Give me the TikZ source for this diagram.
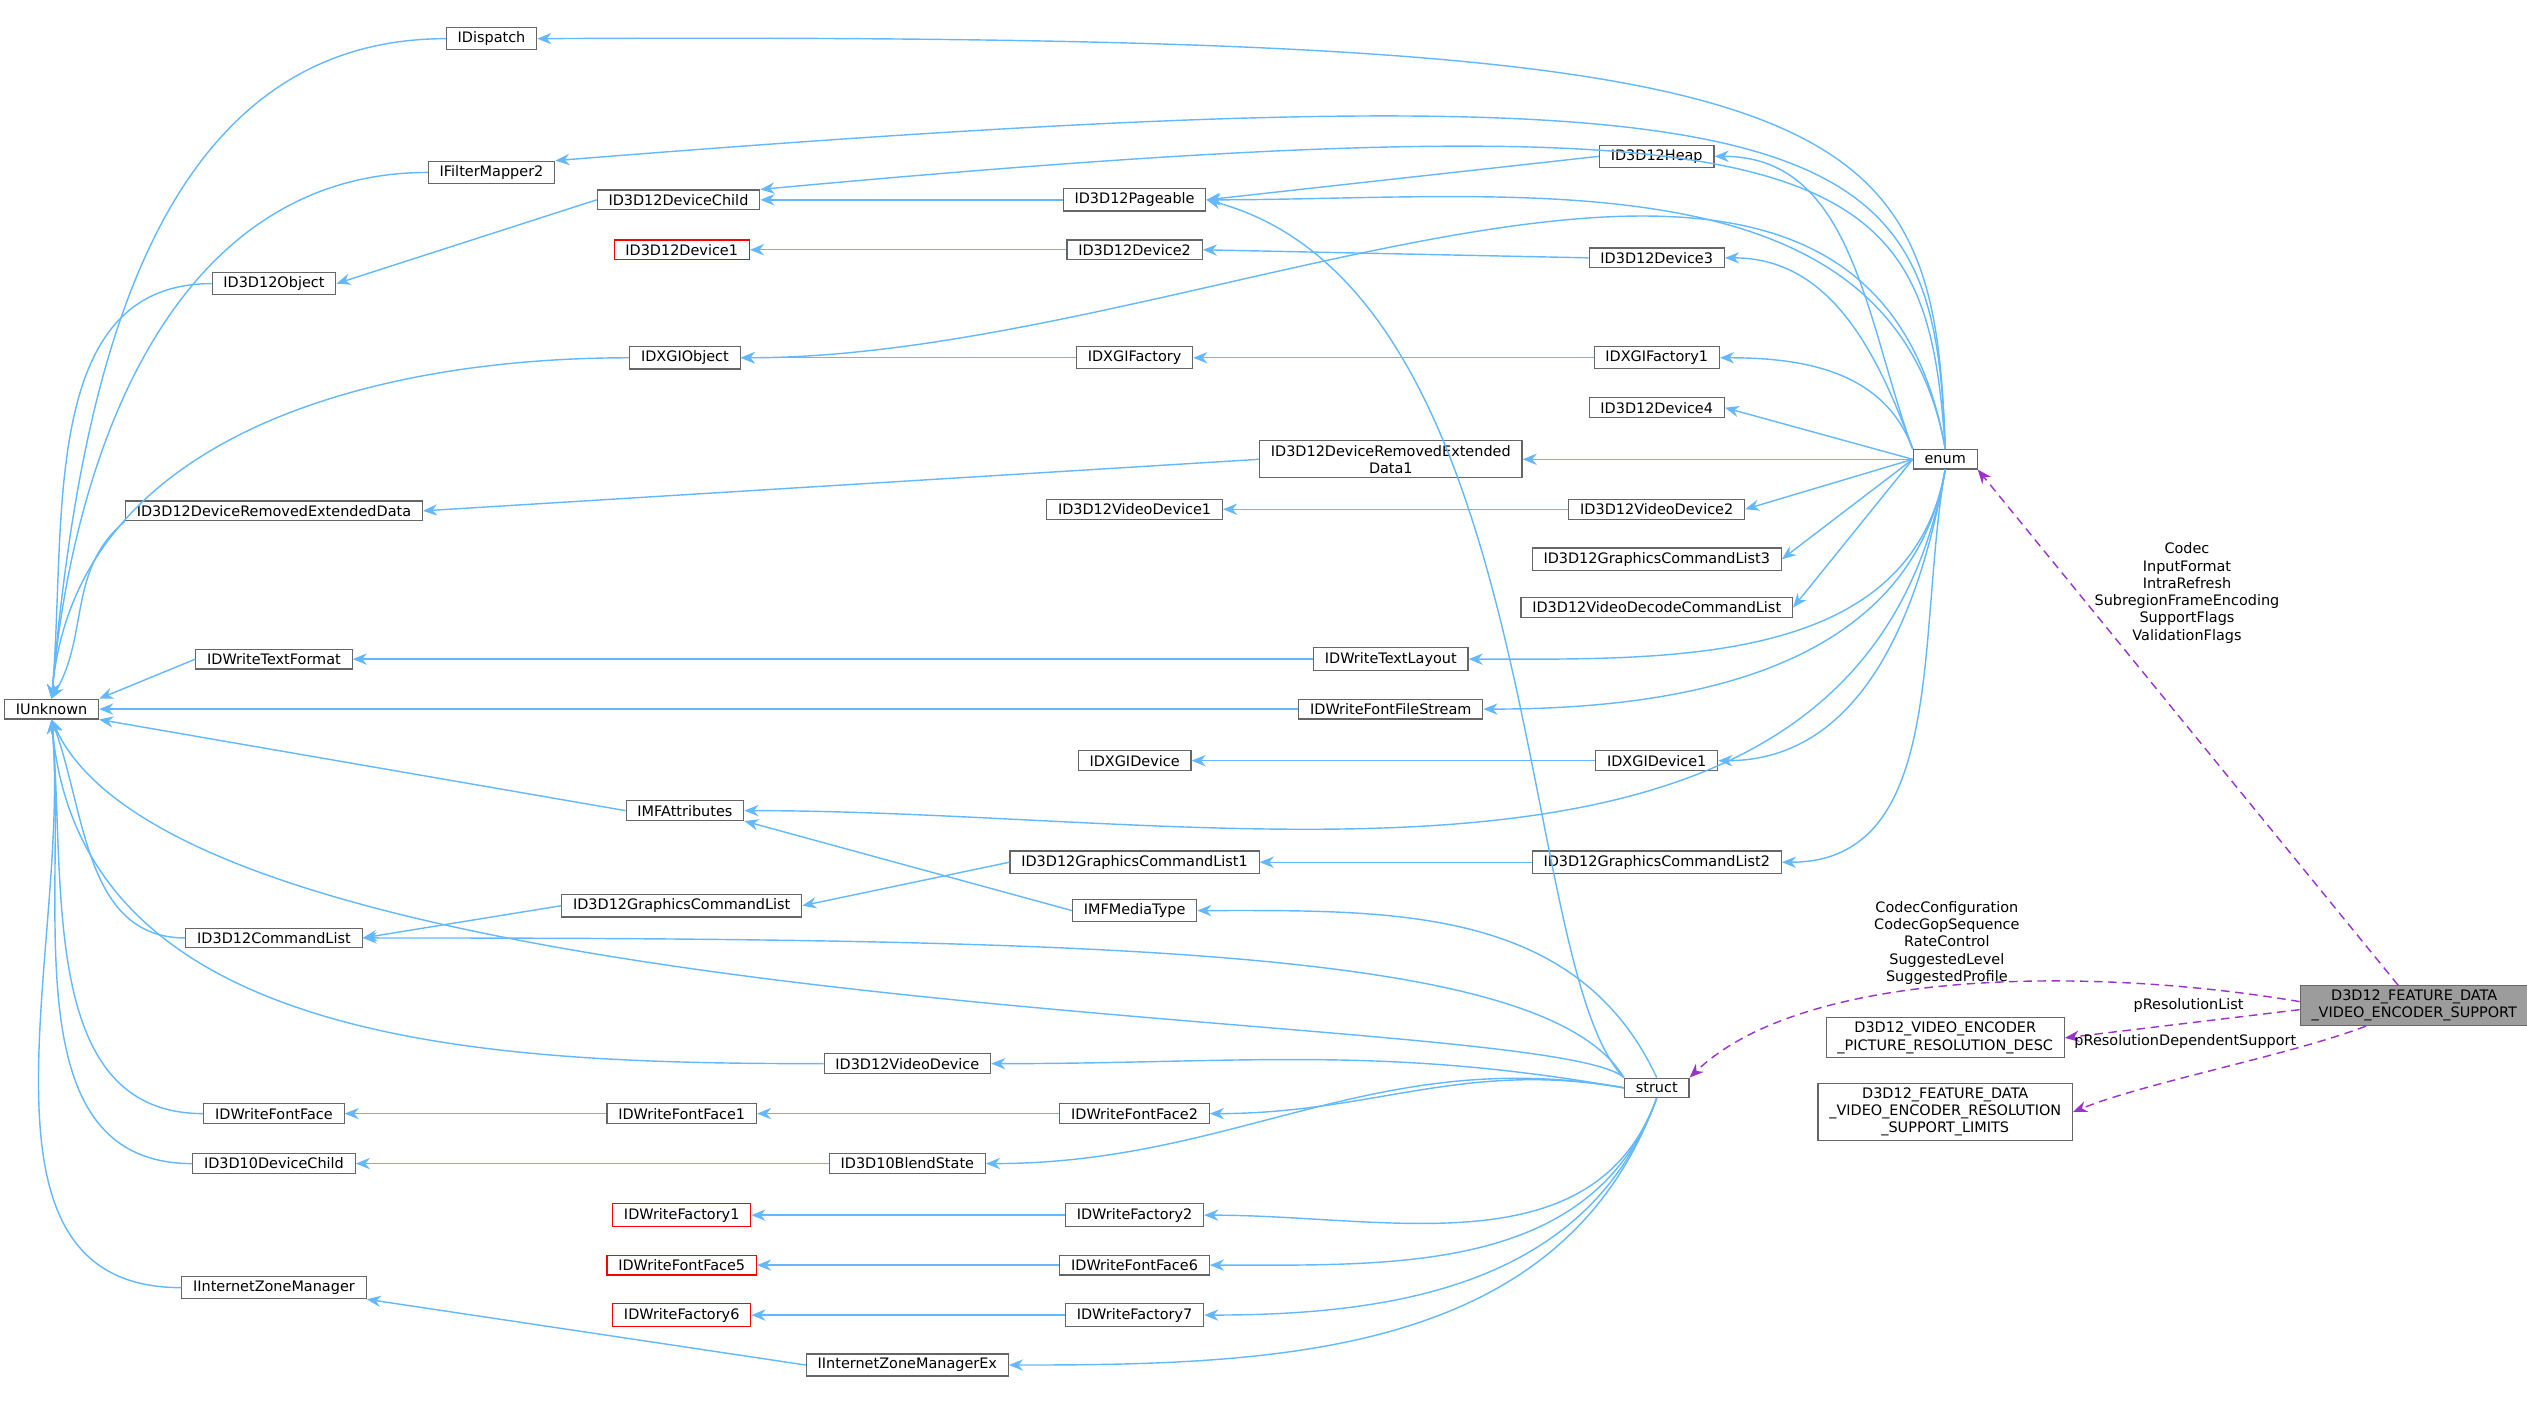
\documentclass[tikz,border=0pt]{standalone}
\usepackage{fontspec}
\setmainfont{DejaVu Sans}
\usetikzlibrary{arrows.meta}
\definecolor{inhCol}{RGB}{99,184,255}
\definecolor{useCol}{RGB}{154,50,205}
\definecolor{boxCol}{RGB}{102,102,102}
\begin{document}
\begin{tikzpicture}[
  x=0.02cm, y=-0.02cm,
  every node/.style={font=\fontsize{5.1}{6.1}\selectfont},
  cls/.style={draw=boxCol, fill=white, inner xsep=4pt, inner ysep=1.5pt, minimum height=0.24cm, align=center},
  miss/.style={cls, draw=red},
  main/.style={cls, fill=boxCol!65},
  inh/.style={draw=inhCol, line width=0.5pt, -{Stealth[length=5pt, width=4pt]}},
  use/.style={draw=useCol, line width=0.5pt, dash pattern=on 3pt off 2pt, -{Stealth[length=5pt, width=4pt]}},
  lbl/.style={align=center, inner sep=0pt},
]
\useasboundingbox (0,0) rectangle (1568,874);
% left column
\node[cls] (iunk) at (32,440) {IUnknown};
\node[cls] (idisp) at (305,24) {IDispatch};
\node[cls] (ifm2) at (305,107) {IFilterMapper2};
\node[cls] (obj) at (170,176) {ID3D12Object};
\node[cls] (dred) at (170,317) {ID3D12DeviceRemovedExtendedData};
\node[cls] (wtf) at (170,409) {IDWriteTextFormat};
\node[cls] (cmdl) at (170,582) {ID3D12CommandList};
\node[cls] (wff) at (170,691) {IDWriteFontFace};
\node[cls] (d10c) at (170,722) {ID3D10DeviceChild};
\node[cls] (izm) at (170,799) {IInternetZoneManager};
% middle columns
\node[cls] (dchild) at (421,124) {ID3D12DeviceChild};
\node[miss] (dev1) at (423,155) {ID3D12Device1};
\node[cls] (dxobj) at (425,222) {IDXGIObject};
\node[cls] (mfa) at (425,503) {IMFAttributes};
\node[cls] (gcl) at (423,562) {ID3D12GraphicsCommandList};
\node[cls] (wff1) at (423,691) {IDWriteFontFace1};
\node[miss] (wfa1) at (423,754) {IDWriteFactory1};
\node[miss] (wff5) at (423,785) {IDWriteFontFace5};
\node[miss] (wfa6) at (423,816) {IDWriteFactory6};
\node[cls] (vdev) at (563,660) {ID3D12VideoDevice};
\node[cls] (blend) at (563,722) {ID3D10BlendState};
\node[cls] (izmex) at (563,847) {IInternetZoneManagerEx};
\node[cls] (page) at (704,124) {ID3D12Pageable};
\node[cls] (dev2) at (704,155) {ID3D12Device2};
\node[cls] (dxfac) at (704,222) {IDXGIFactory};
\node[cls] (vdev1) at (704,316) {ID3D12VideoDevice1};
\node[cls] (dxdev) at (704,472) {IDXGIDevice};
\node[cls] (gcl1) at (704,535) {ID3D12GraphicsCommandList1};
\node[cls] (mfmt) at (704,565) {IMFMediaType};
\node[cls] (wff2) at (704,691) {IDWriteFontFace2};
\node[cls] (wfa2) at (704,754) {IDWriteFactory2};
\node[cls] (wff6) at (704,785) {IDWriteFontFace6};
\node[cls] (wfa7) at (704,816) {IDWriteFactory7};
\node[cls] (dred1) at (863,285) {ID3D12DeviceRemovedExtended\\Data1};
\node[cls] (wtl) at (863,409) {IDWriteTextLayout};
\node[cls] (wffs) at (863,440) {IDWriteFontFileStream};
\node[cls] (heap) at (1028,97) {ID3D12Heap};
\node[cls] (dev3) at (1028,160) {ID3D12Device3};
\node[cls] (dxfac1) at (1028,222) {IDXGIFactory1};
\node[cls] (dev4) at (1028,253) {ID3D12Device4};
\node[cls] (vdev2) at (1028,316) {ID3D12VideoDevice2};
\node[cls] (gcl3) at (1028,347) {ID3D12GraphicsCommandList3};
\node[cls] (vdcl) at (1028,377) {ID3D12VideoDecodeCommandList};
\node[cls] (dxdev1) at (1028,472) {IDXGIDevice1};
\node[cls] (gcl2) at (1028,535) {ID3D12GraphicsCommandList2};
\node[cls] (struct) at (1028,675) {struct};
\node[cls] (enum) at (1207,285) {enum};
% right side
\node[main] (feat) at (1498,624) {D3D12\_FEATURE\_DATA\\\_VIDEO\_ENCODER\_SUPPORT};
\node[cls] (resdesc) at (1207,644) {D3D12\_VIDEO\_ENCODER\\\_PICTURE\_RESOLUTION\_DESC};
\node[cls] (reslim) at (1207,690) {D3D12\_FEATURE\_DATA\\\_VIDEO\_ENCODER\_RESOLUTION\\\_SUPPORT\_LIMITS};
% inheritance to IUnknown
\foreach \n in {idisp,ifm2,obj,dxobj}
  \draw[inh] (\n.west) to[out=180,in=85] (iunk.north);
\draw[inh] (dred.south west) to[out=-140,in=60] (iunk.north);
\draw[inh] (wtf.west) -- (iunk.north east);
\draw[inh] (wffs.west) -- (iunk.east);
\draw[inh] (mfa.west) -- (iunk.south east);
\draw[inh] (cmdl.west) to[out=180,in=-70] (iunk.south);
\foreach \n in {vdev,wff,d10c,izm}
  \draw[inh] (\n.west) to[out=180,in=-85] (iunk.south);
\draw[inh] (struct.north west) .. controls (960,625) and (120,640) .. (iunk.south);
% chains
\draw[inh] (dchild.west) -- (obj.east);
\draw[inh] (page) -- (dchild);
\draw[inh] (heap.west) -- (page.east);
\draw[inh] (dev2) -- (dev1);
\draw[inh] (dev3.west) -- (dev2.east);
\draw[inh] (dxfac) -- (dxobj);
\draw[inh] (dxfac1) -- (dxfac);
\draw[inh] (dred1.west) -- (dred.east);
\draw[inh] (vdev2) -- (vdev1);
\draw[inh] (wtl) -- (wtf);
\draw[inh] (dxdev1) -- (dxdev);
\draw[inh] (mfmt.west) -- (mfa.south east);
\draw[inh] (gcl1.west) -- (gcl.east);
\draw[inh] (gcl2) -- (gcl1);
\draw[inh] (gcl.west) -- (cmdl.east);
\draw[inh] (wff1) -- (wff);
\draw[inh] (wff2) -- (wff1);
\draw[inh] (blend) -- (d10c);
\draw[inh] (wfa2) -- (wfa1);
\draw[inh] (wff6) -- (wff5);
\draw[inh] (wfa7) -- (wfa6);
\draw[inh] (izmex.west) -- (izm.south east);
% enum uses
\draw[inh] (enum.north) .. controls (1200,60) and (1150,20) .. (idisp.east);
\draw[inh] (enum.north) .. controls (1200,80) and (1150,35) .. (ifm2.north east);
\draw[inh] (enum.north) .. controls (1195,100) and (1150,55) .. (dchild.north east);
\draw[inh] (enum.north) to[out=100,in=0] (page.east);
\draw[inh] (enum.north) to[out=100,in=0] (dxobj.east);
\foreach \n in {heap,dev3,dxfac1}
  \draw[inh] (enum.north west) to[out=110,in=0] (\n.east);
\foreach \n in {dev4,vdev2,gcl3,vdcl}
  \draw[inh] (enum.west) -- (\n.east);
\draw[inh] (enum.west) -- (dred1.east);
\foreach \n in {wtl,wffs,dxdev1,mfa,gcl2}
  \draw[inh] (enum.south) to[out=-100,in=0] (\n.east);
% struct uses
\draw[inh] (struct.north west) .. controls (940,600) and (960,180) .. (page.east);
\draw[inh] (struct.north) to[out=115,in=0] (mfmt.east);
\draw[inh] (struct.north west) .. controls (960,590) and (700,582) .. (cmdl.east);
\foreach \n in {vdev,wff2,blend}
  \draw[inh] (struct.west) to[out=170,in=0] (\n.east);
\foreach \n in {wfa2,wff6,wfa7,izmex}
  \draw[inh] (struct.south) to[out=-110,in=0] (\n.east);
% member usage
\draw[use] ([xshift=-0.2cm]feat.north) -- (enum.south east);
\node[lbl] (enumlbl) at (1357,368) {Codec\\InputFormat\\IntraRefresh\\SubregionFrameEncoding\\SupportFlags\\ValidationFlags};
\draw[use] ([yshift=0.05cm]feat.west) .. controls (1300,600) and (1120,600) .. (struct.north east);
\node[lbl] (structlbl) at (1208,585) {CodecConfiguration\\CodecGopSequence\\RateControl\\SuggestedLevel\\SuggestedProfile};
\draw[use] ([yshift=-0.05cm]feat.west) -- (resdesc.east);
\node[lbl] (reslbl) at (1358,624) {pResolutionList};
\draw[use] ([xshift=-0.6cm]feat.south) .. controls (1420,655) and (1330,672) .. (reslim.east);
\node[lbl] (limlbl) at (1356,646) {pResolutionDependentSupport};
\end{tikzpicture}
\end{document}
